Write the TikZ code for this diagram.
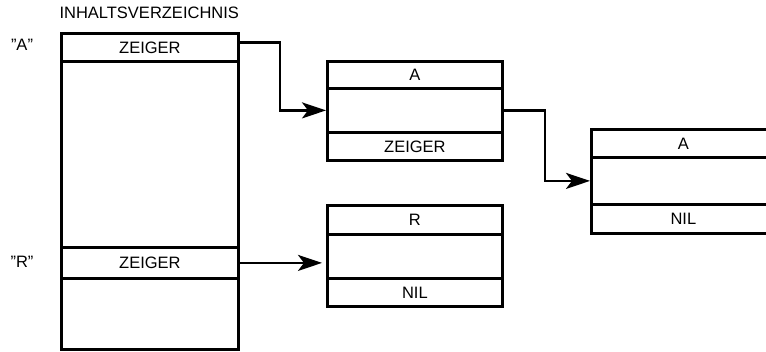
\documentclass[tikz,border=0pt]{standalone}
\usepackage{fontspec}
\setmainfont{Liberation Sans}
\usetikzlibrary{arrows.meta}

\tikzset{
  cell/.style={draw, line width=2.8pt, inner sep=0pt, anchor=north west,
    font=\fontsize{16.5}{19}\selectfont},
  ptr/.style={line width=2.6pt, -{Stealth[length=24pt,width=16pt,inset=6pt]}}
}

\begin{document}
\begin{tikzpicture}[x=1pt,y=-1pt]
  \useasboundingbox (0,0) rectangle (766,351);

  % Inhaltsverzeichnis
  \node[anchor=west, font=\fontsize{16.5}{19}\selectfont] (title) at (56,13) {INHALTSVERZEICHNIS};
  \node[cell, minimum width=177pt, minimum height=28pt] (dirA) at (60,32) {ZEIGER};
  \node[cell, minimum width=177pt, minimum height=186pt] (dirGap) at (60,60) {};
  \node[cell, minimum width=177pt, minimum height=31pt] (dirR) at (60,246) {ZEIGER};
  \node[cell, minimum width=177pt, minimum height=71pt] (dirEnd) at (60,277) {};
  \node[font=\fontsize{16.5}{19}\selectfont] (nameA) at (22,45) {''A''};
  \node[font=\fontsize{16.5}{19}\selectfont] (nameR) at (22,262) {''R''};

  % Satz A
  \node[cell, minimum width=175pt, minimum height=27pt] (boxAtop) at (326,60) {A};
  \node[cell, minimum width=175pt, minimum height=44pt] (boxAmid) at (326,87) {};
  \node[cell, minimum width=175pt, minimum height=28pt] (boxAbot) at (326,131) {ZEIGER};

  % Satz R
  \node[cell, minimum width=175pt, minimum height=29pt] (boxRtop) at (326,204) {R};
  \node[cell, minimum width=175pt, minimum height=44pt] (boxRmid) at (326,233) {};
  \node[cell, minimum width=175pt, minimum height=28pt] (boxRbot) at (326,277) {NIL};

  % zweiter Satz A
  \node[cell, minimum width=184pt, minimum height=28pt] (nextAtop) at (590,128) {A};
  \node[cell, minimum width=184pt, minimum height=47pt] (nextAmid) at (590,156) {};
  \node[cell, minimum width=184pt, minimum height=29pt] (nextAbot) at (590,203) {NIL};

  \draw[ptr] ([yshift=5pt]dirA.east) -| (280,100) |- (boxAmid.west);
  \draw[ptr] (boxAmid.east) -| (545,150) |- (nextAmid.west);
  \draw[ptr, shorten >=4pt] (dirR.east) -- (boxRmid.west |- dirR.east);
\end{tikzpicture}
\end{document}
